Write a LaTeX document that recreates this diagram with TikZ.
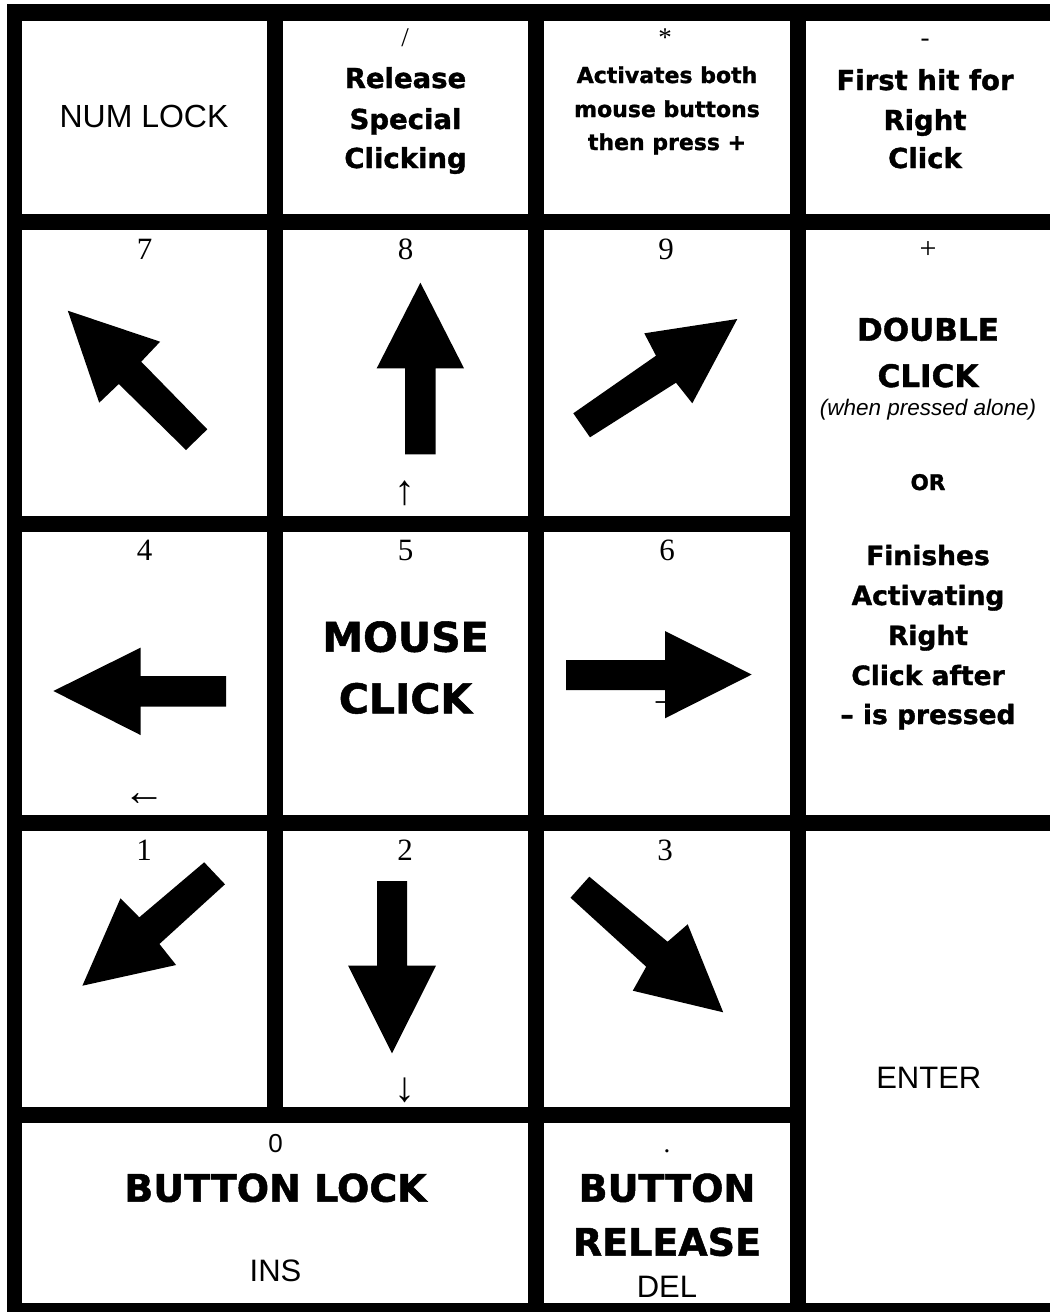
\documentclass[tikz,border=0pt]{standalone}
\usepackage{fontspec}
\setmainfont{Liberation Serif}
\newfontfamily\arialf{Liberation Sans}
\newfontfamily\heavyf{DejaVu Sans}[BoldFeatures={FakeBold=1.3}]
\begin{document}
\begin{tikzpicture}[x=1pt,y=-1pt,
  cellfill/.style={fill=white},
  bigarrow/.style={fill=black},
  num/.style={font=\fontsize{31}{36}\selectfont, inner sep=0, anchor=base},
  sym/.style={font=\fontsize{27}{32}\selectfont, inner sep=0, anchor=base},
  glyph/.style={font=\fontsize{#1}{#1}\selectfont, inner sep=0},
  plain/.style={font=\arialf\fontsize{#1}{#1}\selectfont, inner sep=0, anchor=base},
  hv/.style={font=\heavyf\bfseries\fontsize{#1}{#1}\selectfont, inner sep=0, anchor=base},
  ital/.style={font=\arialf\itshape\fontsize{#1}{#1}\selectfont, inner sep=0, anchor=base}
]
\useasboundingbox (0,0) rectangle (1050,1312);
\fill[white] (0,0) rectangle (1050,1312);
\fill[black] (7,4) rectangle (1050,1312);
% row 1
\fill[cellfill] (22,21) rectangle (267,214);
\fill[cellfill] (283,21) rectangle (528,214);
\fill[cellfill] (544,21) rectangle (790,214);
\fill[cellfill] (806,21) rectangle (1050,214);
% row 2
\fill[cellfill] (22,230) rectangle (267,516);
\fill[cellfill] (283,230) rectangle (528,516);
\fill[cellfill] (544,230) rectangle (790,516);
\fill[cellfill] (806,230) rectangle (1050,815);
% row 3
\fill[cellfill] (22,532) rectangle (267,815);
\fill[cellfill] (283,532) rectangle (528,815);
\fill[cellfill] (544,532) rectangle (790,815);
% row 4
\fill[cellfill] (22,831) rectangle (267,1107);
\fill[cellfill] (283,831) rectangle (528,1107);
\fill[cellfill] (544,831) rectangle (790,1107);
\fill[cellfill] (806,831) rectangle (1050,1303);
% row 5
\fill[cellfill] (22,1123) rectangle (528,1303);
\fill[cellfill] (544,1123) rectangle (790,1303);

% ---- row 1 texts
\node[plain=32] (numlock) at (144,127) {NUM LOCK};
\node[sym] (slash) at (405,46) {/};
\node[hv=27.5] (rel1) at (405.5,88) {Release};
\node[hv=27.5] (rel2) at (405.5,129) {Special};
\node[hv=27.5] (rel3) at (405.5,168) {Clicking};
\node[sym] (star) at (665,46) {*};
\node[hv=22] (act1) at (667,83) {Activates both};
\node[hv=22] (act2) at (667,117) {mouse buttons};
\node[hv=22] (act3) at (667,150) {then press +};
\node[sym] (minus) at (925,46) {-};
\node[hv=27.5] (fh1) at (925,90) {First hit for};
\node[hv=27.5] (fh2) at (925,130) {Right};
\node[hv=27.5] (fh3) at (925,168) {Click};

% ---- row 2 texts
\node[num] (n7) at (144.5,259) {7};
\node[num] (n8) at (405.5,259) {8};
\node[num] (n9) at (666,259) {9};
\node[glyph=30] (plus) at (928,250) {+};
\node[hv=31] (dc1) at (928,340.7) {DOUBLE};
\node[hv=31] (dc2) at (928,387) {CLICK};
\node[ital=22.5] (alone) at (928,415) {(when pressed alone)};
\node[hv=21.5] (or) at (928,490) {OR};
\node[hv=26.5] (fin1) at (928,565) {Finishes};
\node[hv=26.5] (fin2) at (928,605) {Activating};
\node[hv=26.5] (fin3) at (928,645) {Right};
\node[hv=26.5] (fin4) at (928,685) {Click after};
\node[hv=26.5] (fin5) at (928,724) {– is pressed};
\node[glyph=42] (uparr) at (405,493) {↑};

% ---- row 3 texts
\node[num] (n4) at (144.5,560) {4};
\node[num] (n5) at (405.5,560) {5};
\node[num] (n6) at (667,560) {6};
\node[hv=41] (mc1) at (405.5,651.7) {MOUSE};
\node[hv=41] (mc2) at (405.5,713.3) {CLICK};
\node[glyph=42] (leftarr) at (144.6,799.3) {←};
\node[glyph=42] (rightarr) at (668,704) {→};

% ---- row 4 texts
\node[num] (n1) at (144,860) {1};
\node[num] (n2) at (405,860) {2};
\node[num] (n3) at (665,860) {3};
\node[glyph=42] (downarr) at (405,1090) {↓};
\node[plain=31] (enter) at (928.8,1088.3) {ENTER};

% ---- row 5 texts
\node[plain=26] (n0) at (275.5,1152) {0};
\node[hv=38] (block) at (275.5,1201.7) {BUTTON LOCK};
\node[plain=31] (ins) at (275.5,1281.7) {INS};
\node[sym] (dot) at (667,1152) {.};
\node[hv=38] (br1) at (667,1201.7) {BUTTON};
\node[hv=38] (br2) at (667,1255.7) {RELEASE};
\node[plain=31] (del) at (667,1297) {DEL};

% ---- big arrows
\fill[bigarrow] (67.8,310.7) -- (160.1,341.7) -- (141.2,361.7) -- (207.3,429.3) -- (186,450) -- (118.8,384) -- (99.2,402.7) -- cycle;
\fill[bigarrow] (420.4,282.7) -- (464,368.3) -- (435.7,368.3) -- (435.7,454.3) -- (405,454.3) -- (405,368.3) -- (376.7,368.3) -- cycle;
\fill[bigarrow] (737.3,319) -- (692.3,403.3) -- (676,382.7) -- (590,437.3) -- (573.3,413.3) -- (656,355.7) -- (644.3,333.3) -- cycle;
\fill[bigarrow] (53.4,691) -- (140.5,647.7) -- (140.5,676) -- (226.2,676) -- (226.2,706.7) -- (140.5,706.7) -- (140.5,735) -- cycle;
\fill[bigarrow] (751.7,674.5) -- (665,718.3) -- (665,690) -- (566,690) -- (566,660) -- (665,660) -- (665,631) -- cycle;
\fill[bigarrow] (82.4,985.7) -- (120.5,898.3) -- (139.3,917.3) -- (204.2,862.3) -- (225,884.3) -- (159.4,944) -- (176.1,965) -- cycle;
\fill[bigarrow] (377,881) -- (407.2,881) -- (407.2,965.7) -- (436,965.7) -- (392,1053.3) -- (348.2,965.7) -- (377,965.7) -- cycle;
\fill[bigarrow] (589.3,876.7) -- (667.6,941.7) -- (687.7,924.3) -- (723.2,1012.3) -- (632.8,990.7) -- (646.2,966.7) -- (570.5,897.7) -- cycle;
\end{tikzpicture}
\end{document}
